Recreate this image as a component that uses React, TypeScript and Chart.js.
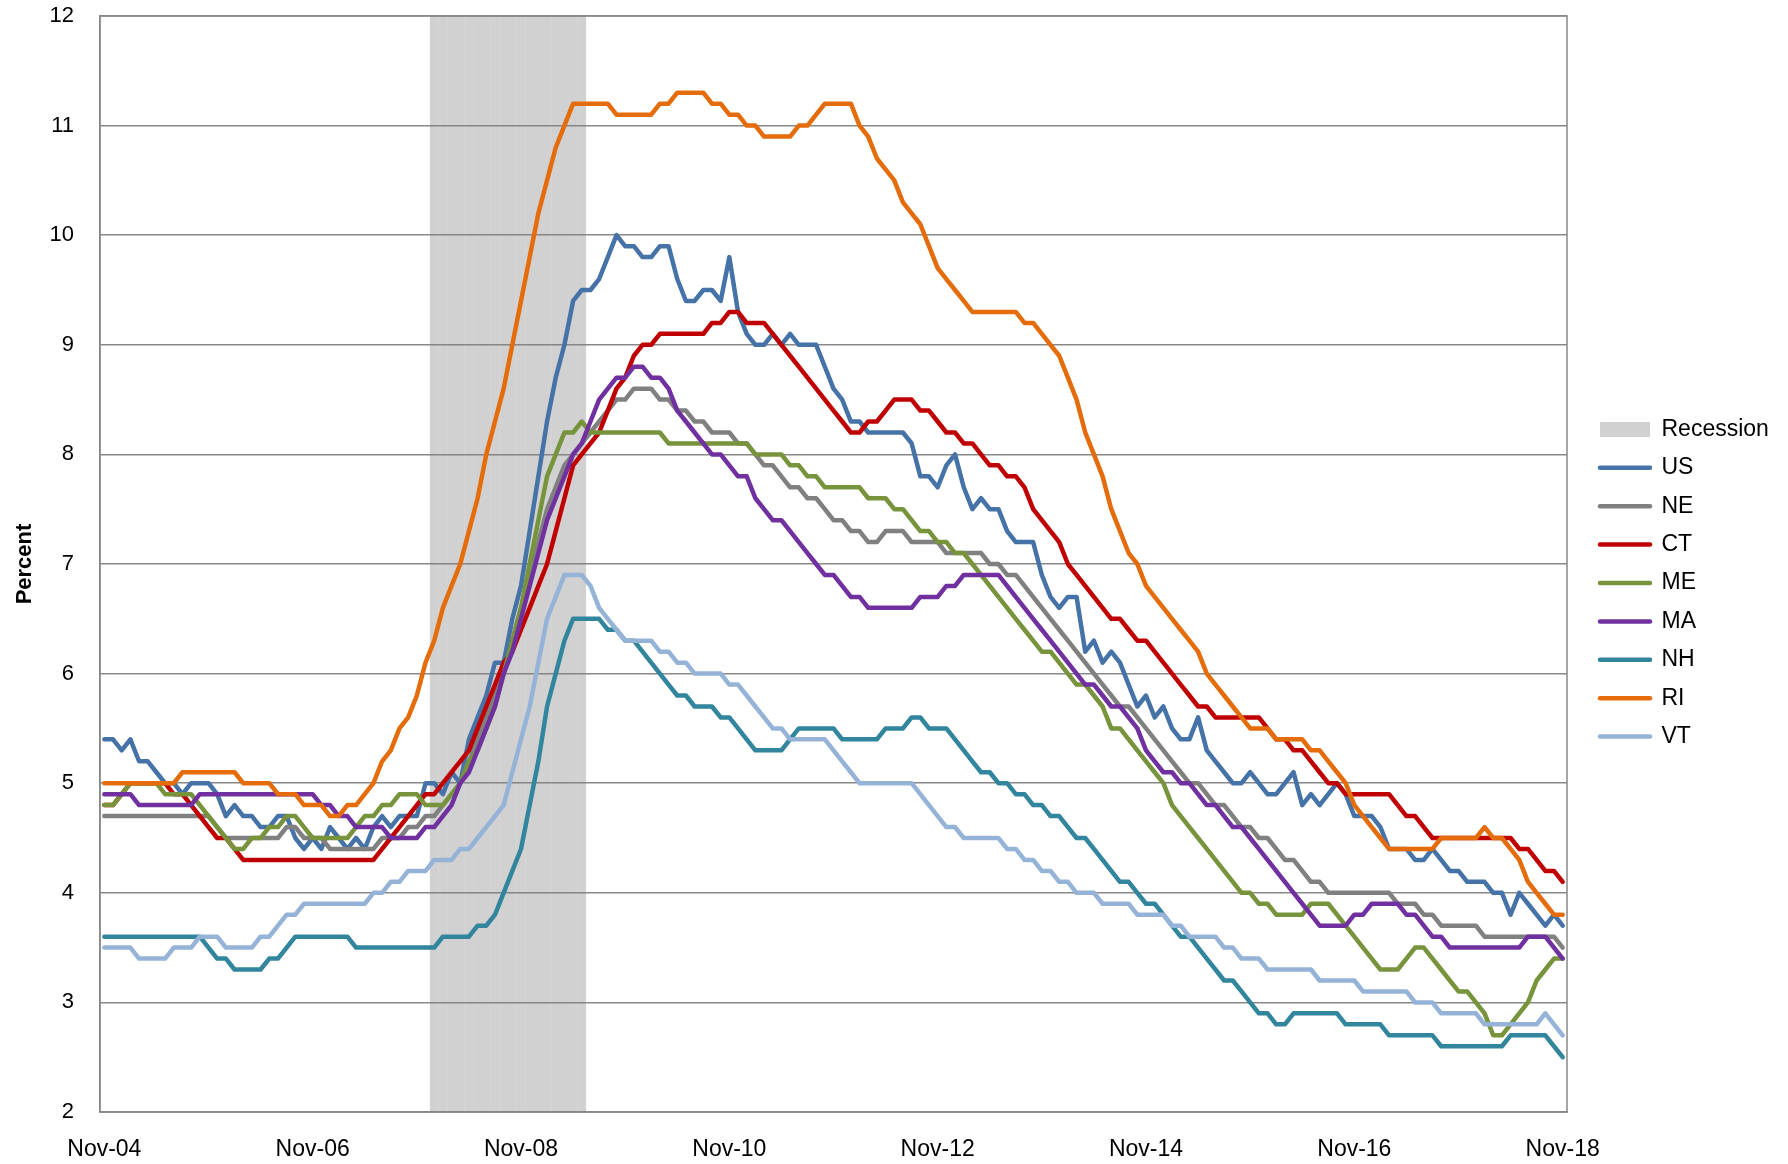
import React, { useEffect, useRef } from 'react';
import { Chart, registerables } from 'chart.js';

Chart.register(...registerables);

// ---------- categories ----------
const MONTH_NAMES = ['Jan', 'Feb', 'Mar', 'Apr', 'May', 'Jun', 'Jul', 'Aug', 'Sep', 'Oct', 'Nov', 'Dec'];
const FIRST_MONTH = 10; // November
const FIRST_YEAR = 4; // 2004
const MONTH_COUNT = 169; // Nov-04 .. Nov-18
const monthLabels: string[] = [];
for (let i = 0; i < MONTH_COUNT; i++) {
  const m = (FIRST_MONTH + i) % 12;
  const y = FIRST_YEAR + Math.floor((FIRST_MONTH + i) / 12);
  monthLabels.push(`${MONTH_NAMES[m]}-${String(y).padStart(2, '0')}`);
}

const xTickLabels = ['Nov-04', 'Nov-06', 'Nov-08', 'Nov-10', 'Nov-12', 'Nov-14', 'Nov-16', 'Nov-18'];
const yTicks = { min: 2, max: 12, step: 1 };

// recession months (shaded)
const recessionStart = 'Jan-08';
const recessionEnd = 'Jun-09';
const recessionLevel = 12;

// ---------- series values (monthly, Nov-04 .. Nov-18) ----------
const US = [
  5.4, 5.4, 5.3, 5.4, 5.2, 5.2, 5.1, 5.0, 5.0, 4.9, 5.0, 5.0,
  5.0, 4.9, 4.7, 4.8, 4.7, 4.7, 4.6, 4.6, 4.7, 4.7, 4.5, 4.4,
  4.5, 4.4, 4.6, 4.5, 4.4, 4.5, 4.4, 4.6, 4.7, 4.6, 4.7, 4.7,
  4.7, 5.0, 5.0, 4.9, 5.1, 5.0, 5.4, 5.6, 5.8, 6.1, 6.1, 6.5,
  6.8, 7.3, 7.8, 8.3, 8.7, 9.0, 9.4, 9.5, 9.5, 9.6, 9.8, 10.0,
  9.9, 9.9, 9.8, 9.8, 9.9, 9.9, 9.6, 9.4, 9.4, 9.5, 9.5, 9.4,
  9.8, 9.3, 9.1, 9.0, 9.0, 9.1, 9.0, 9.1, 9.0, 9.0, 9.0, 8.8,
  8.6, 8.5, 8.3, 8.3, 8.2, 8.2, 8.2, 8.2, 8.2, 8.1, 7.8, 7.8,
  7.7, 7.9, 8.0, 7.7, 7.5, 7.6, 7.5, 7.5, 7.3, 7.2, 7.2, 7.2,
  6.9, 6.7, 6.6, 6.7, 6.7, 6.2, 6.3, 6.1, 6.2, 6.1, 5.9, 5.7,
  5.8, 5.6, 5.7, 5.5, 5.4, 5.4, 5.6, 5.3, 5.2, 5.1, 5.0, 5.0,
  5.1, 5.0, 4.9, 4.9, 5.0, 5.1, 4.8, 4.9, 4.8, 4.9, 5.0, 4.9,
  4.7, 4.7, 4.7, 4.6, 4.4, 4.4, 4.4, 4.3, 4.3, 4.4, 4.3, 4.2,
  4.2, 4.1, 4.1, 4.1, 4.0, 4.0, 3.8, 4.0, 3.9, 3.8, 3.7, 3.8,
  3.7,
];

const NE = [
  4.7, 4.7, 4.7, 4.7, 4.7, 4.7, 4.7, 4.7, 4.7, 4.7, 4.7, 4.7,
  4.7, 4.6, 4.5, 4.5, 4.5, 4.5, 4.5, 4.5, 4.5, 4.6, 4.6, 4.5,
  4.5, 4.5, 4.4, 4.4, 4.4, 4.4, 4.4, 4.4, 4.5, 4.5, 4.5, 4.6,
  4.6, 4.7, 4.7, 4.8, 4.9, 5.0, 5.2, 5.4, 5.6, 5.8, 6.0, 6.3,
  6.6, 6.9, 7.2, 7.5, 7.7, 7.9, 8.0, 8.1, 8.2, 8.3, 8.4, 8.5,
  8.5, 8.6, 8.6, 8.6, 8.5, 8.5, 8.4, 8.4, 8.3, 8.3, 8.2, 8.2,
  8.2, 8.1, 8.1, 8.0, 7.9, 7.9, 7.8, 7.7, 7.7, 7.6, 7.6, 7.5,
  7.4, 7.4, 7.3, 7.3, 7.2, 7.2, 7.3, 7.3, 7.3, 7.2, 7.2, 7.2,
  7.2, 7.1, 7.1, 7.1, 7.1, 7.1, 7.0, 7.0, 6.9, 6.9, 6.8, 6.7,
  6.6, 6.5, 6.4, 6.3, 6.2, 6.1, 6.0, 5.9, 5.8, 5.7, 5.7, 5.6,
  5.5, 5.4, 5.3, 5.2, 5.1, 5.0, 5.0, 4.9, 4.8, 4.8, 4.7, 4.6,
  4.6, 4.5, 4.5, 4.4, 4.3, 4.3, 4.2, 4.1, 4.1, 4.0, 4.0, 4.0,
  4.0, 4.0, 4.0, 4.0, 4.0, 3.9, 3.9, 3.9, 3.8, 3.8, 3.7, 3.7,
  3.7, 3.7, 3.7, 3.6, 3.6, 3.6, 3.6, 3.6, 3.6, 3.6, 3.6, 3.6,
  3.5,
];

const CT = [
  4.8, 4.8, 4.9, 5.0, 5.0, 5.0, 5.0, 5.0, 4.9, 4.9, 4.8, 4.7,
  4.6, 4.5, 4.5, 4.4, 4.3, 4.3, 4.3, 4.3, 4.3, 4.3, 4.3, 4.3,
  4.3, 4.3, 4.3, 4.3, 4.3, 4.3, 4.3, 4.3, 4.4, 4.5, 4.6, 4.7,
  4.8, 4.9, 4.9, 5.0, 5.1, 5.2, 5.3, 5.5, 5.7, 5.9, 6.1, 6.2,
  6.4, 6.6, 6.8, 7.0, 7.3, 7.6, 7.9, 8.0, 8.1, 8.2, 8.4, 8.6,
  8.7, 8.9, 9.0, 9.0, 9.1, 9.1, 9.1, 9.1, 9.1, 9.1, 9.2, 9.2,
  9.3, 9.3, 9.2, 9.2, 9.2, 9.1, 9.0, 8.9, 8.8, 8.7, 8.6, 8.5,
  8.4, 8.3, 8.2, 8.2, 8.3, 8.3, 8.4, 8.5, 8.5, 8.5, 8.4, 8.4,
  8.3, 8.2, 8.2, 8.1, 8.1, 8.0, 7.9, 7.9, 7.8, 7.8, 7.7, 7.5,
  7.4, 7.3, 7.2, 7.0, 6.9, 6.8, 6.7, 6.6, 6.5, 6.5, 6.4, 6.3,
  6.3, 6.2, 6.1, 6.0, 5.9, 5.8, 5.7, 5.7, 5.6, 5.6, 5.6, 5.6,
  5.6, 5.6, 5.5, 5.4, 5.4, 5.3, 5.3, 5.2, 5.1, 5.0, 5.0, 4.9,
  4.9, 4.9, 4.9, 4.9, 4.9, 4.8, 4.7, 4.7, 4.6, 4.5, 4.5, 4.5,
  4.5, 4.5, 4.5, 4.5, 4.5, 4.5, 4.5, 4.4, 4.4, 4.3, 4.2, 4.2,
  4.1,
];

const ME = [
  4.8, 4.8, 4.9, 5.0, 5.0, 5.0, 5.0, 4.9, 4.9, 4.9, 4.9, 4.8,
  4.7, 4.6, 4.5, 4.4, 4.4, 4.5, 4.5, 4.6, 4.6, 4.7, 4.7, 4.6,
  4.5, 4.5, 4.5, 4.5, 4.5, 4.6, 4.7, 4.7, 4.8, 4.8, 4.9, 4.9,
  4.9, 4.8, 4.8, 4.8, 4.9, 5.0, 5.2, 5.3, 5.5, 5.7, 6.0, 6.3,
  6.6, 7.0, 7.4, 7.8, 8.0, 8.2, 8.2, 8.3, 8.2, 8.2, 8.2, 8.2,
  8.2, 8.2, 8.2, 8.2, 8.2, 8.1, 8.1, 8.1, 8.1, 8.1, 8.1, 8.1,
  8.1, 8.1, 8.1, 8.0, 8.0, 8.0, 8.0, 7.9, 7.9, 7.8, 7.8, 7.7,
  7.7, 7.7, 7.7, 7.7, 7.6, 7.6, 7.6, 7.5, 7.5, 7.4, 7.3, 7.3,
  7.2, 7.2, 7.1, 7.1, 7.0, 6.9, 6.8, 6.7, 6.6, 6.5, 6.4, 6.3,
  6.2, 6.2, 6.1, 6.0, 5.9, 5.9, 5.8, 5.7, 5.5, 5.5, 5.4, 5.3,
  5.2, 5.1, 5.0, 4.8, 4.7, 4.6, 4.5, 4.4, 4.3, 4.2, 4.1, 4.0,
  4.0, 3.9, 3.9, 3.8, 3.8, 3.8, 3.8, 3.9, 3.9, 3.9, 3.8, 3.7,
  3.6, 3.5, 3.4, 3.3, 3.3, 3.3, 3.4, 3.5, 3.5, 3.4, 3.3, 3.2,
  3.1, 3.1, 3.0, 2.9, 2.7, 2.7, 2.8, 2.9, 3.0, 3.2, 3.3, 3.4,
  3.4,
];

const MA = [
  4.9, 4.9, 4.9, 4.9, 4.8, 4.8, 4.8, 4.8, 4.8, 4.8, 4.8, 4.9,
  4.9, 4.9, 4.9, 4.9, 4.9, 4.9, 4.9, 4.9, 4.9, 4.9, 4.9, 4.9,
  4.9, 4.8, 4.8, 4.7, 4.7, 4.6, 4.6, 4.6, 4.6, 4.5, 4.5, 4.5,
  4.5, 4.6, 4.6, 4.7, 4.8, 5.0, 5.1, 5.3, 5.5, 5.7, 6.0, 6.2,
  6.5, 6.8, 7.1, 7.4, 7.6, 7.8, 8.0, 8.1, 8.3, 8.5, 8.6, 8.7,
  8.7, 8.8, 8.8, 8.7, 8.7, 8.6, 8.4, 8.3, 8.2, 8.1, 8.0, 8.0,
  7.9, 7.8, 7.8, 7.6, 7.5, 7.4, 7.4, 7.3, 7.2, 7.1, 7.0, 6.9,
  6.9, 6.8, 6.7, 6.7, 6.6, 6.6, 6.6, 6.6, 6.6, 6.6, 6.7, 6.7,
  6.7, 6.8, 6.8, 6.9, 6.9, 6.9, 6.9, 6.9, 6.8, 6.7, 6.6, 6.5,
  6.4, 6.3, 6.2, 6.1, 6.0, 5.9, 5.9, 5.8, 5.7, 5.7, 5.6, 5.5,
  5.3, 5.2, 5.1, 5.1, 5.0, 5.0, 4.9, 4.8, 4.8, 4.7, 4.6, 4.6,
  4.5, 4.4, 4.3, 4.2, 4.1, 4.0, 3.9, 3.8, 3.7, 3.7, 3.7, 3.7,
  3.8, 3.8, 3.9, 3.9, 3.9, 3.9, 3.8, 3.8, 3.7, 3.6, 3.6, 3.5,
  3.5, 3.5, 3.5, 3.5, 3.5, 3.5, 3.5, 3.5, 3.6, 3.6, 3.6, 3.5,
  3.4,
];

const NH = [
  3.6, 3.6, 3.6, 3.6, 3.6, 3.6, 3.6, 3.6, 3.6, 3.6, 3.6, 3.6,
  3.5, 3.4, 3.4, 3.3, 3.3, 3.3, 3.3, 3.4, 3.4, 3.5, 3.6, 3.6,
  3.6, 3.6, 3.6, 3.6, 3.6, 3.5, 3.5, 3.5, 3.5, 3.5, 3.5, 3.5,
  3.5, 3.5, 3.5, 3.6, 3.6, 3.6, 3.6, 3.7, 3.7, 3.8, 4.0, 4.2,
  4.4, 4.8, 5.2, 5.7, 6.0, 6.3, 6.5, 6.5, 6.5, 6.5, 6.4, 6.4,
  6.3, 6.3, 6.2, 6.1, 6.0, 5.9, 5.8, 5.8, 5.7, 5.7, 5.7, 5.6,
  5.6, 5.5, 5.4, 5.3, 5.3, 5.3, 5.3, 5.4, 5.5, 5.5, 5.5, 5.5,
  5.5, 5.4, 5.4, 5.4, 5.4, 5.4, 5.5, 5.5, 5.5, 5.6, 5.6, 5.5,
  5.5, 5.5, 5.4, 5.3, 5.2, 5.1, 5.1, 5.0, 5.0, 4.9, 4.9, 4.8,
  4.8, 4.7, 4.7, 4.6, 4.5, 4.5, 4.4, 4.3, 4.2, 4.1, 4.1, 4.0,
  3.9, 3.9, 3.8, 3.7, 3.6, 3.6, 3.5, 3.4, 3.3, 3.2, 3.2, 3.1,
  3.0, 2.9, 2.9, 2.8, 2.8, 2.9, 2.9, 2.9, 2.9, 2.9, 2.9, 2.8,
  2.8, 2.8, 2.8, 2.8, 2.7, 2.7, 2.7, 2.7, 2.7, 2.7, 2.6, 2.6,
  2.6, 2.6, 2.6, 2.6, 2.6, 2.6, 2.7, 2.7, 2.7, 2.7, 2.7, 2.6,
  2.5,
];

const RI = [
  5.0, 5.0, 5.0, 5.0, 5.0, 5.0, 5.0, 5.0, 5.0, 5.1, 5.1, 5.1,
  5.1, 5.1, 5.1, 5.1, 5.0, 5.0, 5.0, 5.0, 4.9, 4.9, 4.9, 4.8,
  4.8, 4.8, 4.7, 4.7, 4.8, 4.8, 4.9, 5.0, 5.2, 5.3, 5.5, 5.6,
  5.8, 6.1, 6.3, 6.6, 6.8, 7.0, 7.3, 7.6, 8.0, 8.3, 8.6, 9.0,
  9.4, 9.8, 10.2, 10.5, 10.8, 11.0, 11.2, 11.2, 11.2, 11.2, 11.2, 11.1,
  11.1, 11.1, 11.1, 11.1, 11.2, 11.2, 11.3, 11.3, 11.3, 11.3, 11.2, 11.2,
  11.1, 11.1, 11.0, 11.0, 10.9, 10.9, 10.9, 10.9, 11.0, 11.0, 11.1, 11.2,
  11.2, 11.2, 11.2, 11.0, 10.9, 10.7, 10.6, 10.5, 10.3, 10.2, 10.1, 9.9,
  9.7, 9.6, 9.5, 9.4, 9.3, 9.3, 9.3, 9.3, 9.3, 9.3, 9.2, 9.2,
  9.1, 9.0, 8.9, 8.7, 8.5, 8.2, 8.0, 7.8, 7.5, 7.3, 7.1, 7.0,
  6.8, 6.7, 6.6, 6.5, 6.4, 6.3, 6.2, 6.0, 5.9, 5.8, 5.7, 5.6,
  5.5, 5.5, 5.5, 5.4, 5.4, 5.4, 5.4, 5.3, 5.3, 5.2, 5.1, 5.0,
  4.8, 4.7, 4.6, 4.5, 4.4, 4.4, 4.4, 4.4, 4.4, 4.4, 4.5, 4.5,
  4.5, 4.5, 4.5, 4.6, 4.5, 4.5, 4.4, 4.3, 4.1, 4.0, 3.9, 3.8,
  3.8,
];

const VT = [
  3.5, 3.5, 3.5, 3.5, 3.4, 3.4, 3.4, 3.4, 3.5, 3.5, 3.5, 3.6,
  3.6, 3.6, 3.5, 3.5, 3.5, 3.5, 3.6, 3.6, 3.7, 3.8, 3.8, 3.9,
  3.9, 3.9, 3.9, 3.9, 3.9, 3.9, 3.9, 4.0, 4.0, 4.1, 4.1, 4.2,
  4.2, 4.2, 4.3, 4.3, 4.3, 4.4, 4.4, 4.5, 4.6, 4.7, 4.8, 5.1,
  5.4, 5.7, 6.1, 6.5, 6.7, 6.9, 6.9, 6.9, 6.8, 6.6, 6.5, 6.4,
  6.3, 6.3, 6.3, 6.3, 6.2, 6.2, 6.1, 6.1, 6.0, 6.0, 6.0, 6.0,
  5.9, 5.9, 5.8, 5.7, 5.6, 5.5, 5.5, 5.4, 5.4, 5.4, 5.4, 5.4,
  5.3, 5.2, 5.1, 5.0, 5.0, 5.0, 5.0, 5.0, 5.0, 5.0, 4.9, 4.8,
  4.7, 4.6, 4.6, 4.5, 4.5, 4.5, 4.5, 4.5, 4.4, 4.4, 4.3, 4.3,
  4.2, 4.2, 4.1, 4.1, 4.0, 4.0, 4.0, 3.9, 3.9, 3.9, 3.9, 3.8,
  3.8, 3.8, 3.8, 3.7, 3.7, 3.6, 3.6, 3.6, 3.6, 3.5, 3.5, 3.4,
  3.4, 3.4, 3.3, 3.3, 3.3, 3.3, 3.3, 3.3, 3.2, 3.2, 3.2, 3.2,
  3.2, 3.1, 3.1, 3.1, 3.1, 3.1, 3.1, 3.0, 3.0, 3.0, 2.9, 2.9,
  2.9, 2.9, 2.9, 2.8, 2.8, 2.8, 2.8, 2.8, 2.8, 2.8, 2.9, 2.8,
  2.7,
];

const seriesNames = ['US', 'NE', 'CT', 'ME', 'MA', 'NH', 'RI', 'VT'];
const seriesValues = [US, NE, CT, ME, MA, NH, RI, VT];
const seriesColors = ['#4572A7', '#808080', '#C00000', '#77933C', '#7030A0', '#31859C', '#E46C0A', '#95B3D7'];

// ---------- styles ----------
const GRID_COLOR = '#888888';
const GRID_WIDTH = 1.5;
const LINE_WIDTH = 4.5;
const RECESSION_FILL = 'rgba(128,128,128,0.36)';

const plotBorder = {
  id: 'plotBorder',
  beforeDatasetsDraw(chart: any) {
    const { ctx, chartArea } = chart;
    ctx.save();
    ctx.strokeStyle = GRID_COLOR;
    ctx.lineWidth = GRID_WIDTH;
    ctx.strokeRect(chartArea.left, chartArea.top, chartArea.right - chartArea.left, chartArea.bottom - chartArea.top);
    ctx.restore();
  },
};

// Excel-like legend placement: a gap right of the plot, centred a bit below plot centre
const legendPlacement = {
  id: 'legendPlacement',
  afterLayout(chart: any) {
    const lg = chart.legend;
    if (!lg) return;
    const ca = chart.chartArea;
    const w = lg.right - lg.left;
    const h = lg.bottom - lg.top;
    lg.left = ca.right + 17.6;
    lg.right = lg.left + w;
    const mid = (ca.top + ca.bottom) / 2 + 19;
    lg.top = mid - h / 2;
    lg.bottom = lg.top + h;
  },
};

export default function App() {
  const canvasRef = useRef<HTMLCanvasElement | null>(null);

  useEffect(() => {
    if (!canvasRef.current) return;
    Chart.defaults.font.family = "'Liberation Sans', Arial, sans-serif";
    Chart.defaults.color = '#000000';

    const startIdx = monthLabels.indexOf(recessionStart);
    const endIdx = monthLabels.indexOf(recessionEnd);
    const recessionBars = monthLabels.map((_, i) => (i >= startIdx && i <= endIdx ? recessionLevel : null));

    const lineDatasets = seriesNames.map((name, i) => ({
      type: 'line' as const,
      label: name,
      data: seriesValues[i],
      borderColor: seriesColors[i],
      backgroundColor: seriesColors[i],
      borderWidth: LINE_WIDTH,
      pointRadius: 0,
      pointHoverRadius: 0,
      tension: 0,
      fill: false,
      borderJoinStyle: 'round' as const,
      borderCapStyle: 'round' as const,
      order: seriesNames.length - i,
    }));

    const chart = new Chart(canvasRef.current, {
      data: {
        labels: monthLabels,
        datasets: [
          {
            type: 'bar' as const,
            label: 'Recession',
            data: recessionBars as any,
            backgroundColor: RECESSION_FILL,
            borderWidth: 0,
            inflateAmount: 0,
            categoryPercentage: 1,
            barPercentage: 1,
            order: 100,
          },
          ...lineDatasets,
        ] as any,
      },
      options: {
        animation: false,
        responsive: true,
        maintainAspectRatio: false,
        events: [],
        layout: { padding: { top: 16, right: 26.7, bottom: 4.4, left: 0 } },
        scales: {
          x: {
            type: 'category',
            offset: true,
            grid: { display: false, drawTicks: false },
            border: { display: true, color: GRID_COLOR, width: GRID_WIDTH },
            ticks: {
              autoSkip: false,
              maxRotation: 0,
              minRotation: 0,
              padding: 23.4,
              color: '#000000',
              font: { size: 23 },
              callback: (_value: any, index: number) => {
                const l = monthLabels[index];
                return xTickLabels.includes(l) ? l : '';
              },
            },
            afterFit: (scale: any) => {
              scale.height = 47.6;
            },
          },
          y: {
            type: 'linear',
            min: yTicks.min,
            max: yTicks.max,
            ticks: { stepSize: yTicks.step, padding: 26, color: '#000000', font: { size: 22 } },
            grid: { color: GRID_COLOR, lineWidth: GRID_WIDTH, drawTicks: false },
            border: { display: true, color: GRID_COLOR, width: GRID_WIDTH },
            title: {
              display: true,
              text: 'Percent',
              color: '#000000',
              font: { size: 22, weight: 'bold' },
              padding: { top: 12, bottom: 0 },
            },
            afterFit: (scale: any) => {
              scale.width = 100;
              scale.paddingTop = 0;
              scale.paddingBottom = 0;
            },
          },
        },
        plugins: {
          tooltip: { enabled: false },
          legend: {
            position: 'right',
            labels: {
              usePointStyle: true,
              pointStyleWidth: 50,
              boxHeight: 15,
              padding: 15.4,
              color: '#000000',
              font: { size: 23 },
              sort: (a: any, b: any) => a.datasetIndex - b.datasetIndex,
              generateLabels: (c: any) => {
                const items = (Chart.defaults.plugins.legend.labels as any).generateLabels(c);
                return items.map((it: any) => {
                  const ds = c.data.datasets[it.datasetIndex];
                  const isBar = it.datasetIndex === 0;
                  return {
                    ...it,
                    pointStyle: isBar ? 'rect' : 'line',
                    lineWidth: isBar ? 0 : LINE_WIDTH,
                    strokeStyle: isBar ? 'rgba(0,0,0,0)' : ds.borderColor,
                    fillStyle: ds.backgroundColor,
                    lineCap: 'round',
                  };
                });
              },
            },
          },
        },
      } as any,
      plugins: [plotBorder, legendPlacement],
    });

    return () => chart.destroy();
  }, []);

  return (
    <div style={{ position: 'fixed', left: 0, top: 0, width: 1788, height: 1164, background: '#ffffff' }}>
      <canvas ref={canvasRef} />
    </div>
  );
}
